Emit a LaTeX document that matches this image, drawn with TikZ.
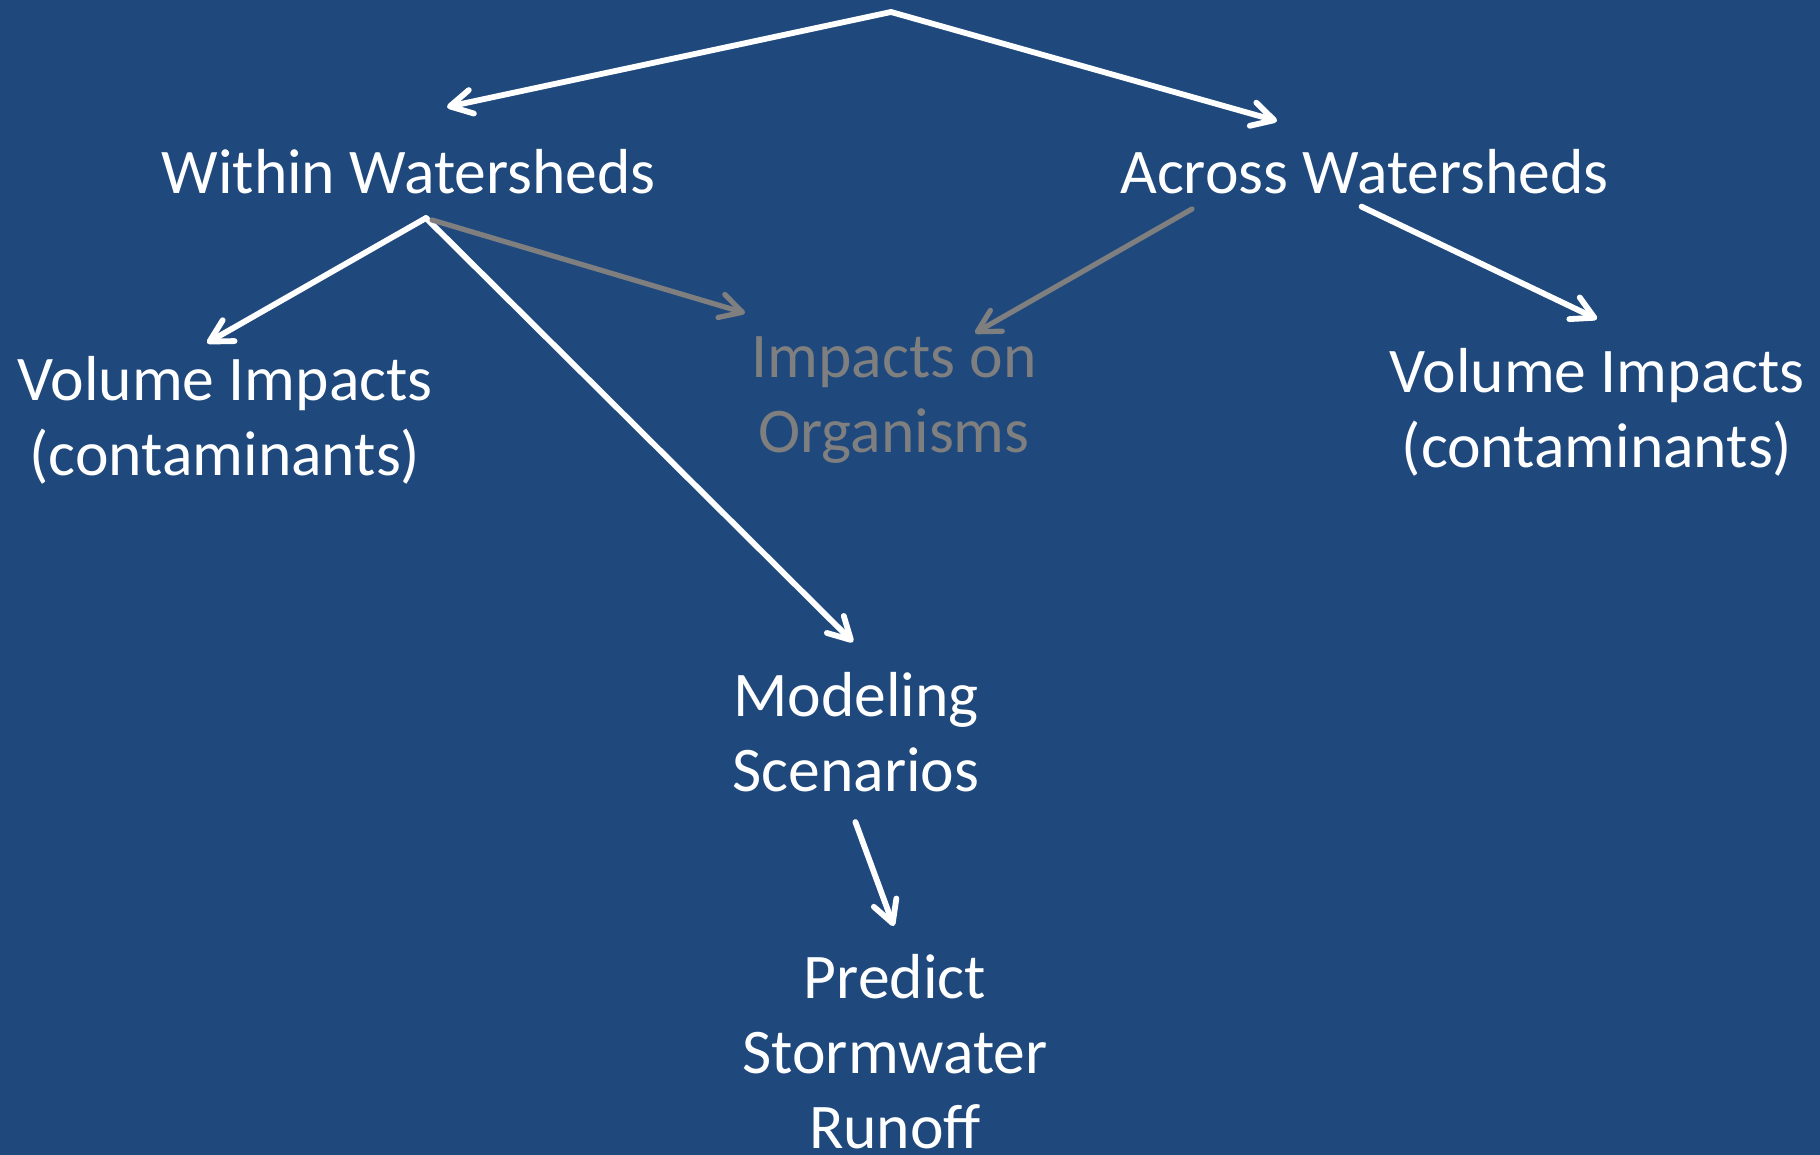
\documentclass[tikz,border=0pt]{standalone}
\usepackage{fontspec}
\setmainfont{Carlito}
\usetikzlibrary{arrows.meta}
\definecolor{bg}{HTML}{1F497D}
\definecolor{dim}{HTML}{7F7F7F}
\begin{document}
\begin{tikzpicture}[x=0.5pt,y=-0.5pt,
  lbl/.style={text=white,inner sep=0pt,anchor=base,
    font=\fontsize{31.8}{37.5}\selectfont},
  dimlbl/.style={lbl,text=dim},
  arr/.style={draw=white,line width=2.9pt,line cap=round,
    -{Straight Barb[length=11pt,width=12pt,round]}},
  dimarr/.style={arr,draw=dim,line width=2.6pt}]
\useasboundingbox (0,0) rectangle (1820,1155);
\fill[bg] (0,0) rectangle (1820,1155);
\clip (0,0) rectangle (1820,1155);

% nodes
\node[lbl] (within) at (408.6,193.8) {Within Watersheds};
\node[lbl] (across) at (1364.4,193.8) {Across Watersheds};
\node[lbl] (volL) at (225,400.4) {\begin{tabular}[t]{@{}c@{}}Volume Impacts\\(contaminants)\end{tabular}};
\node[dimlbl] (org) at (894,377) {\begin{tabular}[t]{@{}c@{}}Impacts on\\Organisms\end{tabular}};
\node[lbl] (volR) at (1597,392.3) {\begin{tabular}[t]{@{}c@{}}Volume Impacts\\(contaminants)\end{tabular}};
\node[lbl] (model) at (856,716) {\begin{tabular}[t]{@{}c@{}}Modeling\\Scenarios\end{tabular}};
\node[lbl] (predict) at (895,998) {\begin{tabular}[t]{@{}c@{}}Predict\\Stormwater\\Runoff\end{tabular}};

% connector end points
\coordinate (apex) at (891,12);
\coordinate (withinIn) at (447,107);
\coordinate (acrossIn) at (1277,121);
\coordinate (withinOut) at (426,218);
\coordinate (withinOutG) at (432,220);
\coordinate (volLIn) at (207,343);
\coordinate (modelIn) at (853,642);
\coordinate (orgInL) at (745,313);
\coordinate (acrossOutG) at (1192,209);
\coordinate (orgInR) at (975,333);
\coordinate (acrossOut) at (1361.5,206.6);
\coordinate (volRIn) at (1597,319);
\coordinate (modelOut) at (855.4,822);
\coordinate (predictIn) at (893.7,926);

% connectors
\draw[arr] (apex) -- (withinIn);
\draw[arr] (apex) -- (acrossIn);
\draw[arr] (withinOut) -- (volLIn);
\draw[arr] (withinOut) -- (modelIn);
\draw[dimarr] (withinOutG) -- (orgInL);
\draw[dimarr] (acrossOutG) -- (orgInR);
\draw[arr] (acrossOut) -- (volRIn);
\draw[arr] (modelOut) -- (predictIn);
\end{tikzpicture}
\end{document}
